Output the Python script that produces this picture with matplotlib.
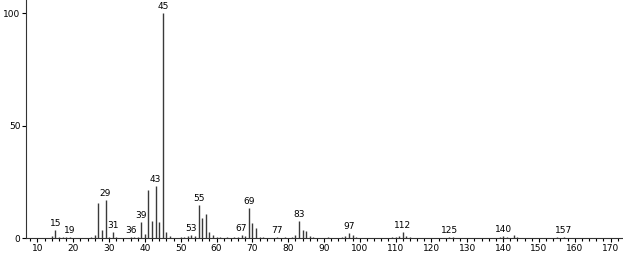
import matplotlib
matplotlib.use('Agg')
import matplotlib.pyplot as plt

# mass spectrum, m/z vs relative abundance
mz = [14, 15, 16, 17, 18, 19, 25, 26, 27, 28, 29, 30, 31, 32, 36, 37, 38, 39, 40,
      41, 42, 43, 44, 45, 46, 47, 50, 51, 52, 53, 54, 55, 56, 57, 58, 59, 60, 61,
      63, 65, 66, 67, 68, 69, 70, 71, 72, 73, 77, 79, 81, 82, 83, 84, 85, 86, 87,
      91, 95, 96, 97, 98, 99, 109, 110, 111, 112, 113, 114, 125, 126, 139, 140,
      141, 143, 144, 155, 157]
abund = [1.0, 3.4, 0.6, 0.4, 0.6, 0.5, 0.5, 1.2, 15.4, 3.6, 17.1, 0.6, 2.8, 0.6,
         0.4, 0.4, 0.6, 7.3, 1.8, 21.6, 7.4, 23.0, 7.1, 100.0, 2.8, 0.8, 0.5, 0.6,
         0.7, 1.5, 1.0, 14.5, 9.0, 10.8, 2.7, 1.2, 0.6, 0.4, 0.4, 0.4, 0.6, 1.2,
         1.0, 13.3, 6.8, 4.3, 0.6, 0.4, 0.5, 0.4, 0.6, 1.2, 7.4, 3.7, 3.1, 0.8,
         0.4, 0.4, 0.5, 0.7, 2.2, 1.5, 0.6, 0.4, 0.6, 1.0, 2.7, 0.7, 0.4, 0.5,
         0.3, 0.4, 1.0, 0.4, 1.5, 0.5, 0.4, 0.5]
labelled = [15, 19, 29, 31, 36, 39, 43, 45, 53, 55, 67, 69, 77, 83, 97, 112, 125, 140, 157]

fig = plt.figure(figsize=(6.23, 2.54), dpi=100)
ax = fig.add_axes([26/623, 16/254, 596/623, 238/254])

ax.vlines(mz, 0, abund, color='#3a3a3a', linewidth=1.0)

for m in labelled:
    h = abund[mz.index(m)]
    ax.text(m, h + 0.9, str(m), ha='center', va='bottom', fontsize=6.5, color='black')

ax.set_xlim(6.8, 173.2)
ax.set_ylim(0, 106)
ax.set_xticks(range(10, 171, 10))
ax.set_xticks(range(8, 173, 2), minor=True)
ax.set_yticks([0, 50, 100])
ax.tick_params(axis='x', which='major', length=3, width=0.8, labelsize=6.5, pad=1.5)
ax.tick_params(axis='x', which='minor', length=2, width=0.8)
ax.tick_params(axis='y', length=3, width=0.8, labelsize=6.5, pad=1)

ax.spines['top'].set_visible(False)
ax.spines['right'].set_visible(False)
ax.spines['left'].set_color('#333333')
ax.spines['bottom'].set_color('#333333')
ax.spines['left'].set_linewidth(0.8)
ax.spines['bottom'].set_linewidth(0.8)

fig.savefig('out.png', dpi=100)
